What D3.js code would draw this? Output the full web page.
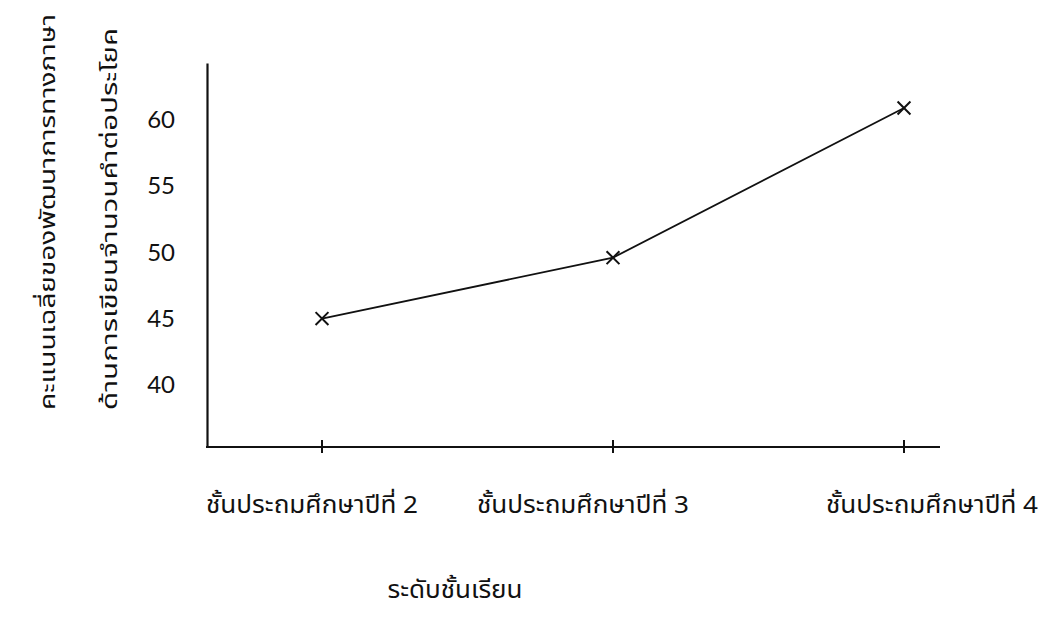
<!DOCTYPE html>
<html>
<head>
<meta charset="utf-8">
<script src="https://cdn.jsdelivr.net/npm/d3@7/dist/d3.min.js"></script>
<style>
  html, body { margin: 0; padding: 0; background: #fff; }
  svg { display: block; }
  .thai { font-family: "Noto Sans Thai", "Loma", "Garuda", "Norasi", "Tlwg Typo", "DejaVu Sans", sans-serif; }
  .num { font-family: Lato, "DejaVu Sans", sans-serif; }
</style>
</head>
<body>
<svg id="chart" width="1052" height="627"></svg>
<script>
// ---- data ----
const categories = ["ชั้นประถมศึกษาปีที่ 2", "ชั้นประถมศึกษาปีที่ 3", "ชั้นประถมศึกษาปีที่ 4"];
const meanScores = [45.0, 49.6, 60.9];
const yTickValues = [40, 45, 50, 55, 60];
const yTitleLines = ["คะแนนเฉลี่ยของพัฒนาการทางภาษา", "ด้านการเขียนจำนวนคำต่อประโยค"];
const xTitle = "ระดับชั้นเรียน";

// ---- layout ----
const axisX = 207, axisY = 447, axisTop = 63, axisRight = 940;
const svg = d3.select("#chart");

const x = d3.scalePoint().domain(categories).range([322, 904]);
const y = d3.scaleLinear().domain([35.3, 64.3]).range([axisY, axisTop]);

// y axis (line + labels, no tick marks)
const yAxis = d3.axisLeft(y).tickValues(yTickValues).tickSizeInner(0).tickSizeOuter(0).tickPadding(32);
const gy = svg.append("g").attr("transform", `translate(${axisX},0)`).call(yAxis);
gy.select(".domain").attr("stroke", "#111").attr("stroke-width", 2.2);
gy.selectAll(".tick text").attr("class", "num").attr("font-size", 24).attr("fill", "#111");

// x axis line
svg.append("line")
  .attr("x1", axisX - 1).attr("x2", axisRight).attr("y1", axisY).attr("y2", axisY)
  .attr("stroke", "#111").attr("stroke-width", 2.2);
// x ticks crossing the line
svg.append("g").selectAll("line").data(categories).join("line")
  .attr("x1", d => x(d)).attr("x2", d => x(d))
  .attr("y1", axisY - 7).attr("y2", axisY + 6)
  .attr("stroke", "#111").attr("stroke-width", 2);

// x labels
const labelShift = [-10, -30, 28];
svg.append("g").selectAll("text").data(categories).join("text")
  .attr("class", "thai")
  .attr("x", (d, i) => x(d) + labelShift[i])
  .attr("y", 513)
  .attr("text-anchor", "middle")
  .attr("font-size", 24)
  .attr("textLength", 212)
  .attr("lengthAdjust", "spacingAndGlyphs")
  .attr("fill", "#111")
  .text(d => d);

// data line
const line = d3.line().x((d, i) => x(categories[i])).y(d => y(d));
svg.append("path").datum(meanScores)
  .attr("d", line).attr("fill", "none").attr("stroke", "#111").attr("stroke-width", 1.8);

// markers
const marker = d3.symbol().type(d3.symbolX).size(110);
svg.append("g").selectAll("path").data(meanScores).join("path")
  .attr("transform", (d, i) => `translate(${x(categories[i])},${y(d)})`)
  .attr("d", marker)
  .attr("fill", "none").attr("stroke", "#111").attr("stroke-width", 2);

// y title (two rotated lines, reading bottom to top)
const titleBase = [55, 117];
const titleLen = [396, 382];
svg.append("g").selectAll("text").data(yTitleLines).join("text")
  .attr("class", "thai")
  .attr("transform", (d, i) => `translate(${titleBase[i]},410) rotate(-90)`)
  .attr("text-anchor", "start")
  .attr("font-size", 22)
  .attr("textLength", (d, i) => titleLen[i])
  .attr("lengthAdjust", "spacingAndGlyphs")
  .attr("fill", "#111")
  .text(d => d);

// x title
svg.append("text")
  .attr("class", "thai")
  .attr("x", 455).attr("y", 598)
  .attr("text-anchor", "middle")
  .attr("font-size", 24)
  .attr("textLength", 135)
  .attr("lengthAdjust", "spacingAndGlyphs")
  .attr("fill", "#111")
  .text(xTitle);
</script>
</body>
</html>
